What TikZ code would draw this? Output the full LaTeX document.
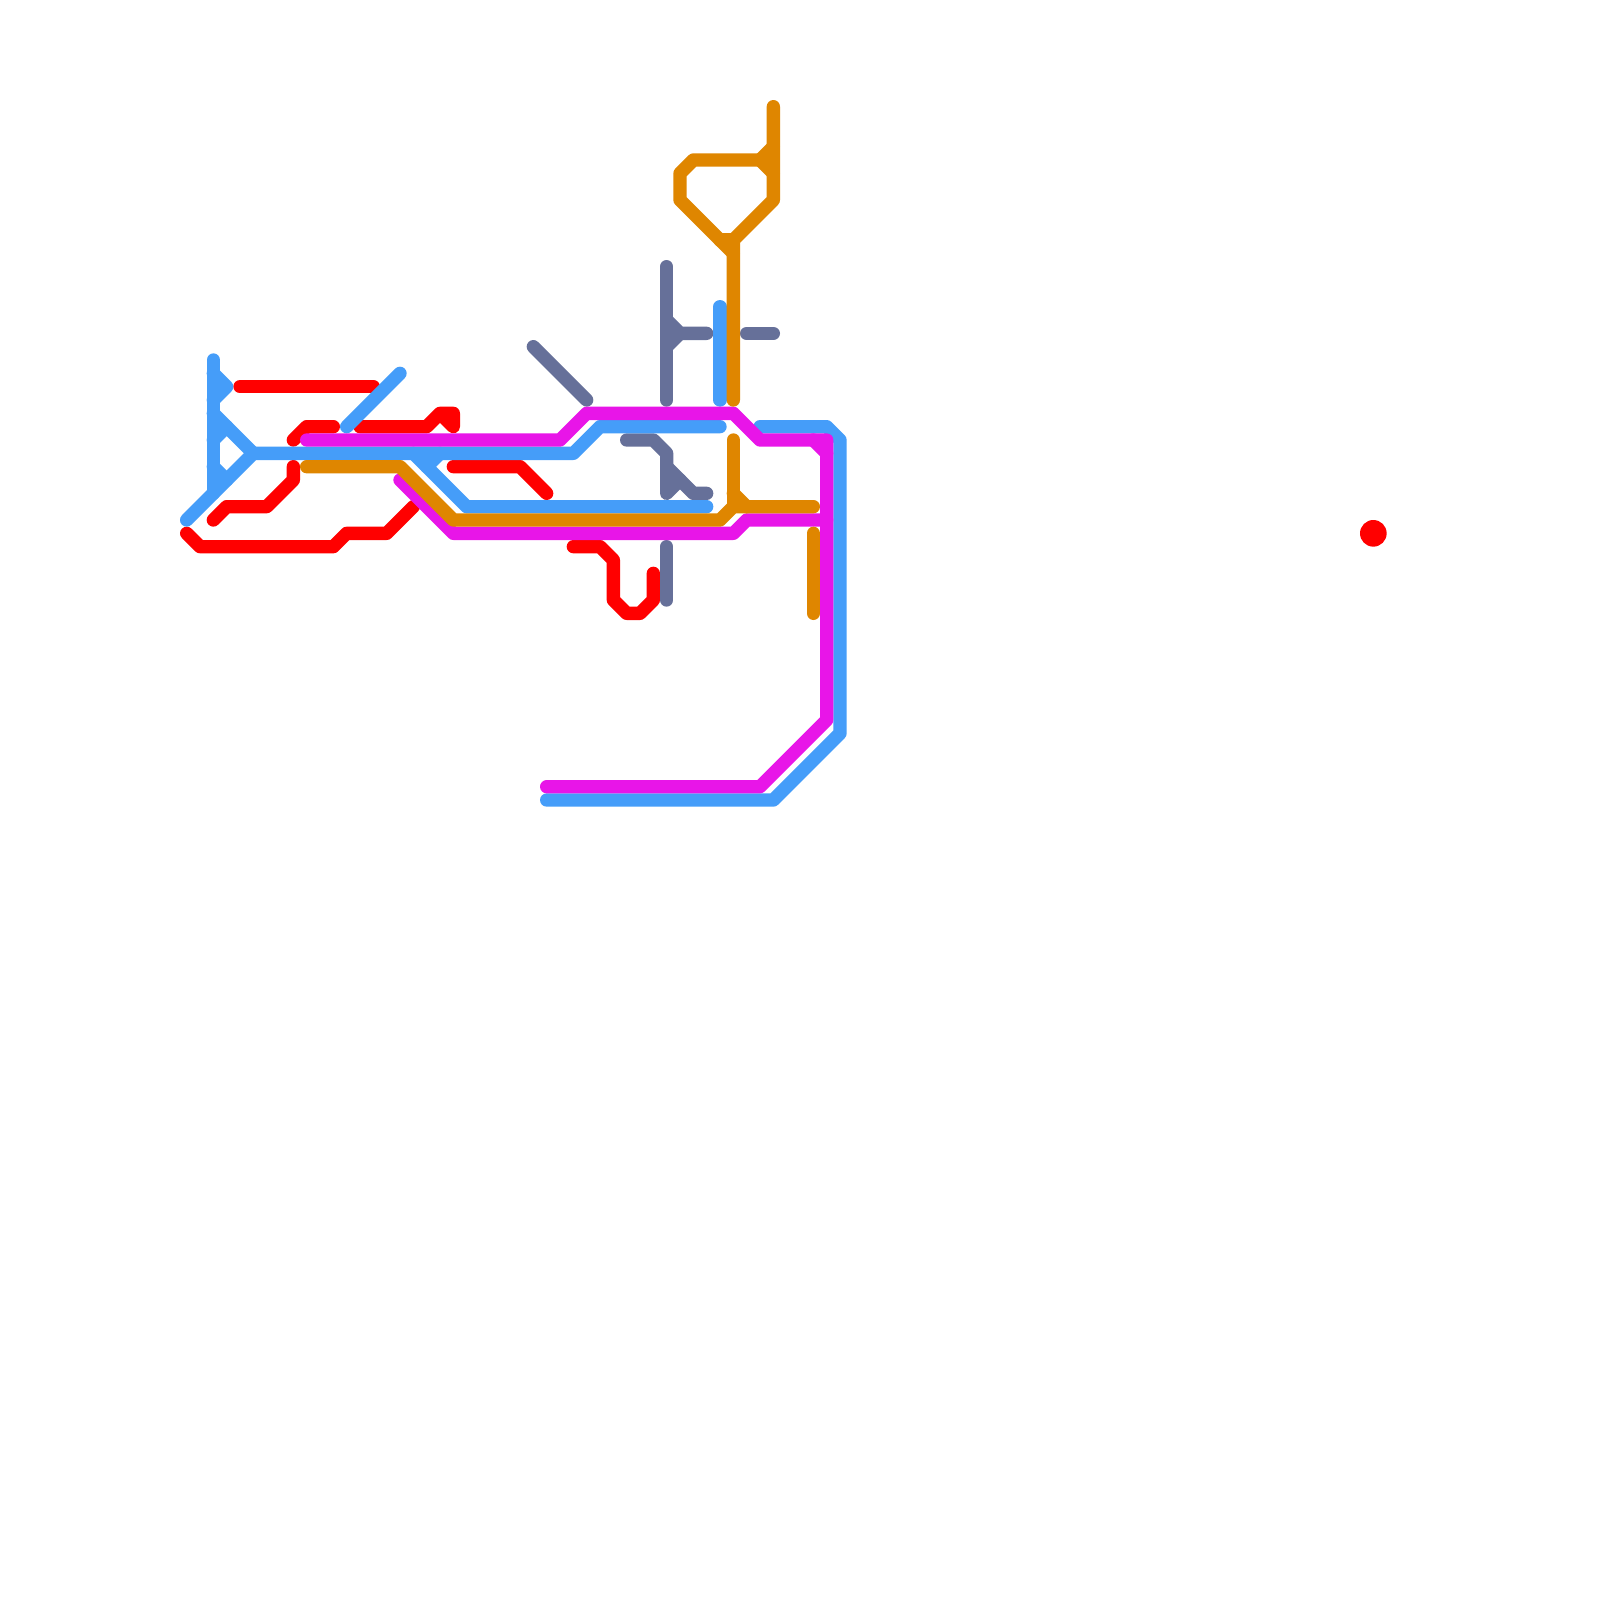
\documentclass[tikz,border=0pt]{standalone}
\definecolor{mred}{HTML}{FF0000}
\definecolor{mgray}{HTML}{667099}
\definecolor{mblue}{HTML}{459DF9}
\definecolor{mmag}{HTML}{E815E8}
\definecolor{morange}{HTML}{DF8600}
\tikzset{metro/.style={line width=0.4cm,line cap=round,line join=round}}
\begin{document}
\begin{tikzpicture}[x=0.4cm,y=-0.4cm]
\useasboundingbox (0,0) rectangle (120,120);
\fill[white] (0,0) rectangle (120,120);
% red
\begin{scope}[metro,draw=mred]
\draw (18,29) -- (28,29);
\draw (22,33) -- (23,32) -- (25,32);
\draw (27,32) -- (32,32) -- (33,31) -- (34,31) -- (34,32) -- (33,31);
\draw (22,35) -- (22,36) -- (20,38) -- (17,38) -- (16,39);
\draw (14,40) -- (15,41) -- (25,41) -- (26,40) -- (29,40) -- (31,38);
\draw (34,35) -- (39,35) -- (41,37);
\draw (43,41) -- (45,41) -- (46,42) -- (46,45) -- (47,46) -- (48,46) -- (49,45) -- (49,43);
\end{scope}
\fill[mred] (103,40) circle (1);
% gray
\begin{scope}[metro,draw=mgray]
\draw (50,20) -- (50,30);
\draw (50,24) -- (51,25) -- (53,25);
\draw (50,26) -- (51,25);
\draw (56,25) -- (58,25);
\draw (40,26) -- (44,30);
\draw (47,33) -- (49,33) -- (50,34) -- (50,37) -- (51,36);
\draw (50,35) -- (52,37) -- (53,37);
\draw (50,41) -- (50,45);
\end{scope}
% blue
\begin{scope}[metro,draw=mblue]
\draw (16,27) -- (16,37);
\draw (16,28) -- (17,29) -- (16,30);
\draw (16,31) -- (19,34);
\draw (16,33) -- (17,32);
\draw (16,35) -- (17,36);
\draw (14,39) -- (19,34) -- (43,34) -- (45,32) -- (54,32);
\draw (26,32) -- (30,28);
\draw (31,34) -- (35,38) -- (53,38);
\draw (32,35) -- (33,34);
\draw (54,23) -- (54,30);
\draw (57,32) -- (62,32) -- (63,33) -- (63,55) -- (58,60) -- (41,60);
\end{scope}
% magenta
\begin{scope}[metro,draw=mmag]
\draw (23,33) -- (42,33) -- (44,31) -- (55,31) -- (57,33) -- (62,33) -- (62,54) -- (57,59) -- (41,59);
\draw (61,33) -- (62,34);
\draw (30,36) -- (34,40) -- (55,40) -- (56,39) -- (62,39);
\end{scope}
% orange
\begin{scope}[metro,draw=morange]
\draw (23,35) -- (30,35) -- (34,39) -- (54,39) -- (55,38) -- (61,38);
\draw (55,33) -- (55,38);
\draw (55,37) -- (56,38);
\draw (61,40) -- (61,46);
\draw (58,8) -- (58,15) -- (55,18) -- (55,30);
\draw (57,12) -- (52,12) -- (51,13) -- (51,15) -- (55,19);
\draw (57,12) -- (58,11);
\draw (57,12) -- (58,13);
\draw (54,18) -- (55,18);
\end{scope}
\end{tikzpicture}
\end{document}
